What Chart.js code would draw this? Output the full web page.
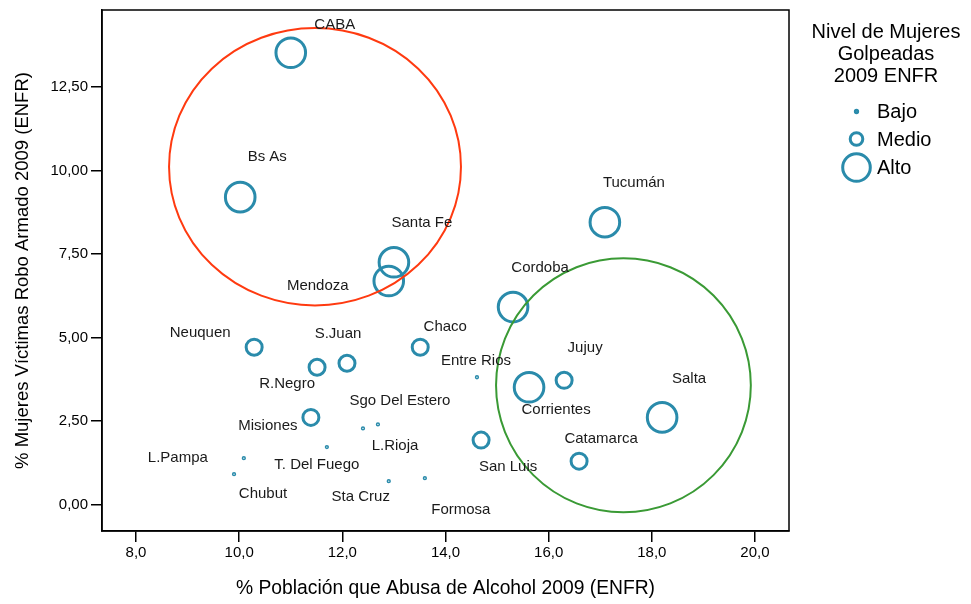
<!DOCTYPE html>
<html><head><meta charset="utf-8">
<script src="https://cdn.jsdelivr.net/npm/chart.js@4.4.1/dist/chart.umd.min.js"></script>
<style>html,body{margin:0;padding:0;background:#fff;}#wrap{width:971px;height:604px;position:relative;}</style>
</head><body><div id="wrap"><canvas id="c"></canvas></div>
<script>
const provinces = ['CABA','Bs As','Santa Fe','Mendoza','Tucumán','Cordoba','Neuquen','R.Negro','S.Juan','Chaco','Entre Rios','Jujuy','Corrientes','Salta','Misiones','Sgo Del Estero','L.Rioja','San Luis','Catamarca','T. Del Fuego','L.Pampa','Chubut','Sta Cruz','Formosa'];
const alcohol = [11.00,10.02,13.00,12.90,17.09,15.31,10.29,11.51,12.09,13.51,14.61,16.30,15.62,18.20,11.39,12.69,12.40,14.69,16.59,11.70,10.09,9.90,12.90,13.60];
const robbery = [13.52,9.20,7.25,6.69,8.45,5.91,4.71,4.11,4.23,4.71,3.81,3.72,3.51,2.61,2.61,2.40,2.28,1.93,1.30,1.72,1.39,0.91,0.70,0.79];
const level = ['Alto','Alto','Alto','Alto','Alto','Alto','Medio','Medio','Medio','Medio','Bajo','Medio','Alto','Alto','Medio','Bajo','Bajo','Medio','Medio','Bajo','Bajo','Bajo','Bajo','Bajo'];
const levels = ['Bajo','Medio','Alto'];
const xTicks = [8,10,12,14,16,18,20];
const xTickLabels = ['8,0','10,0','12,0','14,0','16,0','18,0','20,0'];
const yTicks = [0,2.5,5,7.5,10,12.5];
const yTickLabels = ['0,00','2,50','5,00','7,50','10,00','12,50'];
// label offsets in px relative to point (dx, dy)
const labelOffsets = [[44,-28],[27,-40],[28,-39],[-71,5],[29,-39],[27,-39],[-54,-14],[-30,17],[-9,-29],[25,-20],[-1,-16],[21,-32],[27,23],[27,-39],[-43,8],[22,-24],[32,17],[27,27],[22,-22],[-10,18],[-66,0],[29,20],[-28,16],[36,32]];
const groupCx = [11.47, 17.45];
const groupCy = [10.11, 3.57];
const groupRx = [2.83, 2.47];
const groupRy = [4.15, 3.80];
const groupColors = ['#ff3a10', '#3a9a35'];

const TEAL = '#2a8bab';
const FONT = "'Liberation Sans', Arial, sans-serif";
const markerStyle = {Bajo:{r:1.4,bw:1.5}, Medio:{r:8,bw:3}, Alto:{r:14.8,bw:3}};
const legendStyle = {Bajo:{r:1.4,bw:2.5}, Medio:{r:6.3,bw:3}, Alto:{r:13.8,bw:3}};

const datasets = levels.map(lv => {
  const pts = [];
  provinces.forEach((p,i) => { if (level[i]===lv) pts.push({x:alcohol[i], y:robbery[i], idx:i}); });
  return {label:lv, data:pts, showLine:false, pointRadius:markerStyle[lv].r, pointBorderWidth:markerStyle[lv].bw,
    pointBorderColor:TEAL, pointBackgroundColor:'rgba(0,0,0,0)', pointHoverRadius:markerStyle[lv].r};
});

const overlay = {
  id:'overlay',
  afterDatasetsDraw(chart){
    const ctx = chart.ctx, xs = chart.scales.x, ys = chart.scales.y, ca = chart.chartArea;
    ctx.save();
    for (let k=0;k<groupCx.length;k++){
      const cx = xs.getPixelForValue(groupCx[k]), cy = ys.getPixelForValue(groupCy[k]);
      const rx = Math.abs(xs.getPixelForValue(groupCx[k]+groupRx[k]) - cx);
      const ry = Math.abs(ys.getPixelForValue(groupCy[k]+groupRy[k]) - cy);
      ctx.beginPath(); ctx.ellipse(cx,cy,rx,ry,0,0,Math.PI*2);
      ctx.strokeStyle = groupColors[k]; ctx.lineWidth = 2; ctx.stroke();
    }
    ctx.fillStyle = '#1a1a1a'; ctx.font = '15px ' + FONT; ctx.textAlign='center'; ctx.textBaseline='middle';
    provinces.forEach((p,i) => {
      const px = xs.getPixelForValue(alcohol[i]), py = ys.getPixelForValue(robbery[i]);
      ctx.fillText(p, px+labelOffsets[i][0], py+labelOffsets[i][1]);
    });
    ctx.strokeStyle = '#000'; ctx.lineWidth = 1.5;
    ctx.strokeRect(ca.left, ca.top, ca.right-ca.left, ca.bottom-ca.top);
    const lx = 886;
    ctx.fillStyle = '#000'; ctx.font = '20px ' + FONT; ctx.textAlign='center';
    ['Nivel de Mujeres','Golpeadas','2009 ENFR'].forEach((t,j)=>ctx.fillText(t, lx, 32+22*j));
    const ly = [111.5, 139, 167.5];
    levels.forEach((lv,j)=>{
      ctx.beginPath(); ctx.arc(856.5, ly[j], legendStyle[lv].r, 0, Math.PI*2);
      ctx.strokeStyle = TEAL; ctx.lineWidth = legendStyle[lv].bw; ctx.stroke();
      ctx.fillStyle = '#000'; ctx.textAlign='left';
      ctx.fillText(lv, 877, ly[j]+1);
    });
    ctx.restore();
  }
};

new Chart(document.getElementById('c'), {
  type:'scatter',
  data:{datasets},
  options:{
    responsive:true, maintainAspectRatio:false, animation:false, devicePixelRatio:1,
    layout:{autoPadding:false, padding:{left:0, top:10, right:182, bottom:0}},
    plugins:{legend:{display:false}, tooltip:{enabled:false}},
    scales:{
      x:{type:'linear', min:7.34, max:20.66,
        afterBuildTicks(s){ s.ticks = xTicks.map(v=>({value:v})); },
        afterFit(s){ s.height = 73; s.paddingLeft = 0; s.paddingRight = 0; },
        ticks:{callback:(v)=>xTickLabels[xTicks.indexOf(v)], color:'#000', font:{family:FONT, size:15}, padding:2, maxRotation:0, autoSkip:false},
        grid:{display:true, drawOnChartArea:false, drawTicks:true, tickLength:11, color:'#000', lineWidth:1.5},
        border:{display:true, color:'#000', width:1.5},
        title:{display:true, text:'% Población que Abusa de Alcohol 2009 (ENFR)', color:'#000', font:{family:FONT, size:19.3}, padding:{top:8,bottom:4}}
      },
      y:{type:'linear', min:-0.79, max:14.80,
        afterBuildTicks(s){ s.ticks = yTicks.map(v=>({value:v})); },
        afterFit(s){ s.width = 102; s.paddingTop = 0; s.paddingBottom = 0; },
        ticks:{callback:(v)=>yTickLabels[yTicks.indexOf(v)], color:'#000', font:{family:FONT, size:15}, padding:3, autoSkip:false},
        grid:{display:true, drawOnChartArea:false, drawTicks:true, tickLength:11, color:'#000', lineWidth:1.5},
        border:{display:true, color:'#000', width:1.5},
        title:{display:true, text:'% Mujeres Víctimas Robo Armado 2009 (ENFR)', color:'#000', font:{family:FONT, size:18.5}, padding:{top:12,bottom:4}}
      }
    }
  },
  plugins:[overlay]
});
</script></body></html>
